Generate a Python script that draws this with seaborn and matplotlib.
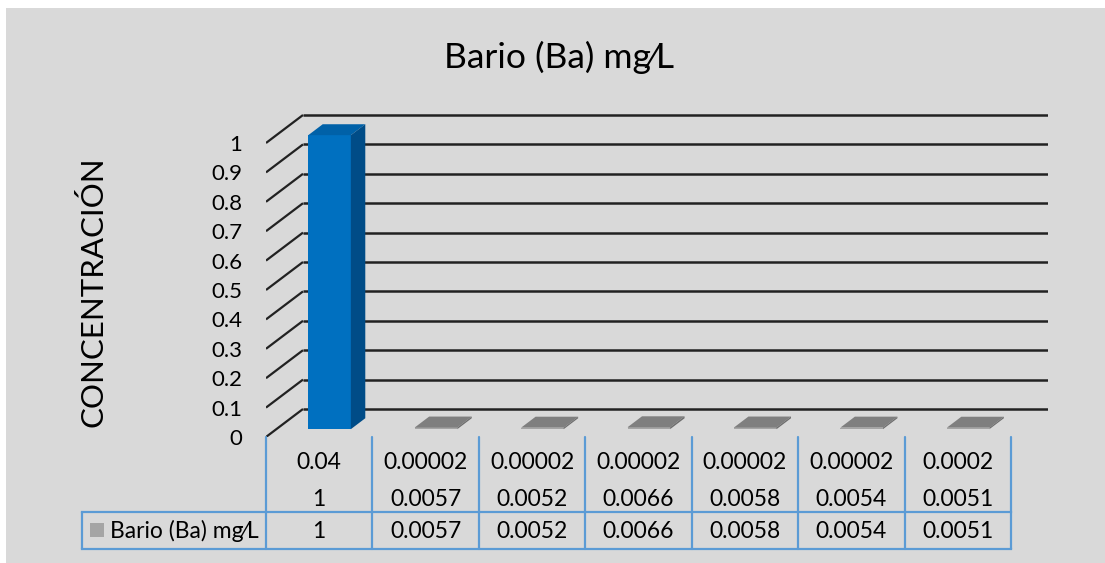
import numpy as np
import pandas as pd
import matplotlib
matplotlib.use("Agg")
import matplotlib.pyplot as plt
import seaborn as sns
from matplotlib.patches import Polygon, Rectangle
from matplotlib.transforms import blended_transform_factory

# ---- data -------------------------------------------------------------
title = "Bario (Ba) mg\u2044L"
series_name = "Bario (Ba) mg\u2044L"
y_label = "CONCENTRACIÓN"
limits = ["0.04", "0.00002", "0.00002", "0.00002", "0.00002", "0.00002", "0.0002"]
values = [1, 0.0057, 0.0052, 0.0066, 0.0058, 0.0054, 0.0051]
value_labels = ["1", "0.0057", "0.0052", "0.0066", "0.0058", "0.0054", "0.0051"]
y_ticks = [0, 0.1, 0.2, 0.3, 0.4, 0.5, 0.6, 0.7, 0.8, 0.9, 1.0]
y_tick_labels = ["0", "0.1", "0.2", "0.3", "0.4", "0.5", "0.6", "0.7", "0.8", "0.9", "1"]

# ---- style ------------------------------------------------------------
sns.set_style("white")
FONT = ["Lato", "DejaVu Sans"]
plt.rcParams["font.family"] = FONT
plt.rcParams["text.color"] = "black"

W, H, DPI = 1105, 563, 100
BG = "#D9D9D9"
GRID = "#222222"
TABLE = "#5B9BD5"
FRONT = ["#0070C0"] + ["#A5A5A5"] * 6
TOP = ["#0061A8"] + ["#7F7F7F"] * 6
SIDE = ["#004C87"] + ["#6E6E6E"] * 6
TXT = 16.5


def fx(px):
    return px / W


def fy(py):
    return 1 - py / H


fig = plt.figure(figsize=(W / DPI, H / DPI), dpi=DPI, facecolor="white")
fig.patches.append(Rectangle((fx(6), 0), 1 - fx(6), fy(8), transform=fig.transFigure,
                             facecolor=BG, edgecolor="none", zorder=-10))

# plot area: front floor at y=437px, first category edge at x=266px
left_px, right_px, floor_px, top_px = 266, 1048, 437, 100
cat_px = (1011 - 266) / 7.0
val_px = 294.0
ax = fig.add_axes([fx(left_px), fy(floor_px), (right_px - left_px) / W, (floor_px - top_px) / H])
ax.set_facecolor("none")

# oblique depth of the 3-D floor, in data units
ddx = 37 / cat_px
ddy = 28 / val_px
front_f, back_f = 0.28, 0.67

df = pd.DataFrame({"pos": list(range(len(values))), "value": values})
sns.barplot(data=df, x="pos", y="value", hue="pos", palette=FRONT, legend=False,
            width=0.40, saturation=1, ax=ax, zorder=4, linewidth=0)

ax.set_xlim(-0.5, -0.5 + (right_px - left_px) / cat_px)
ax.set_ylim(0, (floor_px - top_px) / val_px)

# back wall gridlines and the slanted side-wall strokes
x_back = -0.5 + ddx
for v in y_ticks:
    ax.plot([-0.5, x_back], [v, v + ddy], color=GRID, lw=1.6, zorder=2, solid_capstyle="butt")
    ax.plot([x_back, ax.get_xlim()[1]], [v + ddy, v + ddy], color=GRID, lw=1.8, zorder=2,
            solid_capstyle="butt")

# give each bar a 3-D look: shift the front face back, add top and side faces
bars = sorted(ax.patches, key=lambda p: p.get_x())
dep_x = (back_f - front_f) * ddx
dep_y = (back_f - front_f) * ddy
for i, p in enumerate(bars):
    p.set_x(p.get_x() + front_f * ddx)
    p.set_y(front_f * ddy)
    x0 = p.get_x()
    x1 = x0 + p.get_width()
    y0 = p.get_y()
    y1 = y0 + p.get_height()
    ax.add_patch(Polygon([(x0, y1), (x1, y1), (x1 + dep_x, y1 + dep_y), (x0 + dep_x, y1 + dep_y)],
                         closed=True, facecolor=TOP[i], edgecolor="none", zorder=5))
    ax.add_patch(Polygon([(x1, y0), (x1, y1), (x1 + dep_x, y1 + dep_y), (x1 + dep_x, y0 + dep_y)],
                         closed=True, facecolor=SIDE[i], edgecolor="none", zorder=5))

for s in ax.spines.values():
    s.set_visible(False)
ax.set_xticks([])
ax.set_xlabel("")
ax.set_ylabel("")
ax.set_yticks(y_ticks, y_tick_labels)
ax.tick_params(axis="y", length=0, pad=17, labelsize=16, labelcolor="black")

# titles
fig.text(fx(559), fy(68), title, ha="center", va="baseline", fontsize=25.5, family=FONT)
fig.text(fx(103), fy(292), y_label, ha="center", va="baseline", rotation=90,
         rotation_mode="anchor", fontsize=22.5, family=FONT)

# ---- data table under the plot -----------------------------------------
tr = blended_transform_factory(ax.transData, fig.transFigure)
n = len(values)
legend_left = -0.5 - (266 - 82) / cat_px
row_top, row_mid, row_bot = 437, 512, 549
for k in range(n + 1):
    ax.plot([k - 0.5, k - 0.5], [fy(row_top), fy(row_bot)], color=TABLE, lw=1.6,
            transform=tr, clip_on=False, zorder=3)
for yy in (row_mid, row_bot):
    ax.plot([legend_left, n - 0.5], [fy(yy), fy(yy)], color=TABLE, lw=1.6,
            transform=tr, clip_on=False, zorder=3, solid_capstyle="projecting")
ax.plot([legend_left, legend_left], [fy(row_mid), fy(row_bot)], color=TABLE, lw=1.6,
        transform=tr, clip_on=False, zorder=3)

for i in range(n):
    ax.text(i, fy(469), limits[i], transform=tr, ha="center", va="baseline", fontsize=TXT)
    ax.text(i, fy(506), value_labels[i], transform=tr, ha="center", va="baseline", fontsize=TXT)
    ax.text(i, fy(538), value_labels[i], transform=tr, ha="center", va="baseline", fontsize=TXT)

fig.patches.append(Rectangle((fx(90), fy(537)), 14 / W, 14 / H, transform=fig.transFigure,
                             facecolor="#A5A5A5", edgecolor="none", zorder=5))
fig.text(fx(110), fy(538), series_name, ha="left", va="baseline", fontsize=TXT, family=FONT)

fig.savefig("out.png", dpi=DPI, facecolor="white")
